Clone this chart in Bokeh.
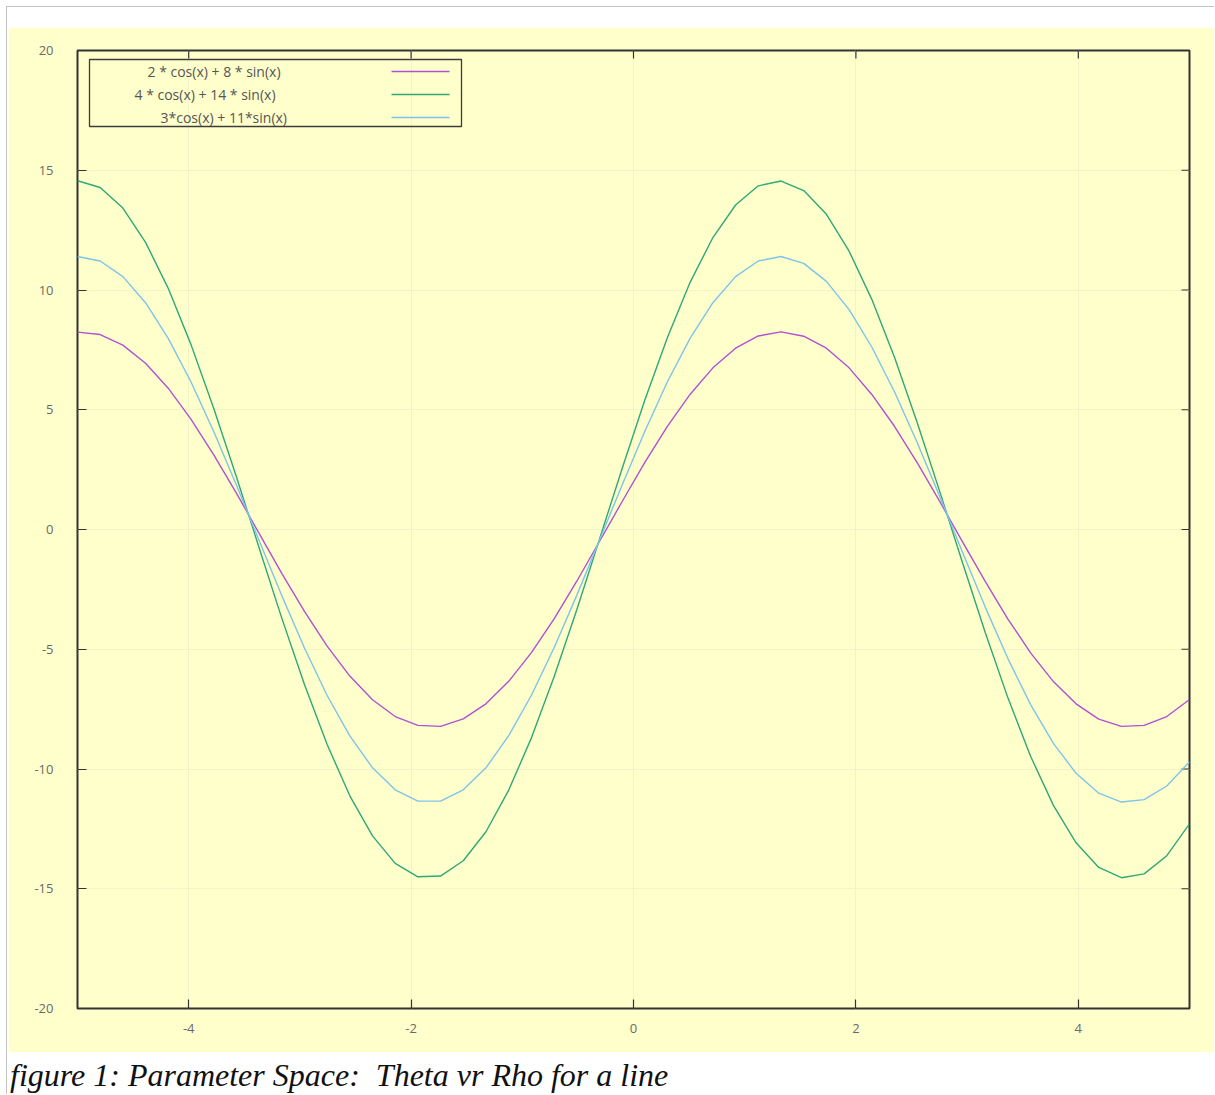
import math
from bokeh.plotting import figure
from bokeh.models import Range1d, FixedTicker, Label, BoxAnnotation, Arrow, Div, Spacer
from bokeh.layouts import column, row
from bokeh.embed import file_html
from bokeh.resources import INLINE

# ---- data (sampled at 50 points across [-5, 5]) ----
x_vals = [-5.000, -4.796, -4.592, -4.388, -4.184, -3.980, -3.776, -3.571, -3.367, -3.163,
          -2.959, -2.755, -2.551, -2.347, -2.143, -1.939, -1.735, -1.531, -1.327, -1.122,
          -0.918, -0.714, -0.510, -0.306, -0.102, 0.102, 0.306, 0.510, 0.714, 0.918,
          1.122, 1.327, 1.531, 1.735, 1.939, 2.143, 2.347, 2.551, 2.755, 2.959,
          3.163, 3.367, 3.571, 3.776, 3.980, 4.184, 4.388, 4.592, 4.796, 5.000]

series_a = [8.24, 8.14, 7.70, 6.94, 5.90, 4.61, 3.13, 1.52, -0.16, -1.83,
            -3.42, -4.87, -6.12, -7.11, -7.81, -8.18, -8.22, -7.91, -7.28, -6.34,
            -5.14, -3.73, -2.16, -0.50, 1.17, 2.80, 4.32, 5.65, 6.75, 7.57,
            8.08, 8.25, 8.07, 7.57, 6.75, 5.64, 4.31, 2.79, 1.16, -0.52,
            -2.17, -3.74, -5.15, -6.35, -7.28, -7.92, -8.22, -8.18, -7.81, -7.10]

series_b = [14.56, 14.28, 13.42, 11.99, 10.07, 7.73, 5.07, 2.20, -0.76, -3.70,
            -6.47, -8.98, -11.12, -12.79, -13.94, -14.50, -14.47, -13.83, -12.62, -10.88,
            -8.70, -6.15, -3.35, -0.41, 2.55, 5.41, 8.03, 10.33, 12.19, 13.55,
            14.35, 14.55, 14.15, 13.16, 11.62, 9.61, 7.19, 4.47, 1.57, -1.39,
            -4.30, -7.03, -9.47, -11.52, -13.08, -14.11, -14.54, -14.38, -13.62, -12.29]

series_c = [11.40, 11.21, 10.56, 9.47, 7.98, 6.17, 4.10, 1.86, -0.46, -2.76,
            -4.95, -6.93, -8.62, -9.95, -10.87, -11.34, -11.34, -10.87, -9.95, -8.61,
            -6.92, -4.94, -2.75, -0.45, 1.86, 4.10, 6.18, 7.99, 9.47, 10.56,
            11.21, 11.40, 11.11, 10.36, 9.18, 7.62, 5.75, 3.63, 1.37, -0.95,
            -3.24, -5.39, -7.31, -8.93, -10.18, -11.01, -11.38, -11.28, -10.71, -9.70]

series_labels = ["2 * cos(x) + 8 * sin(x)", "4 * cos(x) + 14 * sin(x)", "3*cos(x) + 11*sin(x)"]
series_colors = ["#B050D4", "#2EA878", "#7DC3EA"]

x_ticks = [-4, -2, 0, 2, 4]
y_ticks = [-20, -15, -10, -5, 0, 5, 10, 15, 20]
caption = "figure 1: Parameter Space:  Theta vr Rho for a line"

BG = "#FFFFCC"
FRAME = "#333333"
EDGE = "#c4c4c4"

p = figure(width=1206, height=1025, output_backend="svg", toolbar_location=None,
           x_range=Range1d(-5, 5), y_range=Range1d(-20, 20),
           min_border_left=69, min_border_right=25, min_border_top=23, min_border_bottom=44,
           background_fill_color=BG, border_fill_color=BG)

p.outline_line_color = FRAME
p.outline_line_width = 2

for ax in (p.xaxis, p.yaxis):
    ax.axis_line_color = None
    ax.major_tick_in = 9
    ax.major_tick_out = 0
    ax.minor_tick_line_color = None
    ax.major_tick_line_color = FRAME
    ax.major_tick_line_width = 1.2
    ax.major_label_text_font = "Open Sans"
    ax.major_label_text_font_size = "13px"
    ax.major_label_text_color = "#6a6a6a"
p.xaxis.ticker = FixedTicker(ticks=x_ticks)
p.yaxis.ticker = FixedTicker(ticks=y_ticks)
p.xaxis.major_label_overrides = {t: str(t) for t in x_ticks}
p.yaxis.major_label_overrides = {t: str(t) for t in y_ticks}
p.yaxis.major_label_standoff = 24
p.xaxis.major_label_standoff = 15

# mirrored inward ticks on the top and right edges
p.ray(x=x_ticks, y=[y_ticks[-1]] * len(x_ticks), length=8, length_units="screen",
      angle=-math.pi / 2, line_color=FRAME, line_width=1.2)
p.ray(x=[5] * len(y_ticks), y=y_ticks, length=8, length_units="screen",
      angle=math.pi, line_color=FRAME, line_width=1.2)

p.xgrid.ticker = FixedTicker(ticks=x_ticks)
p.ygrid.ticker = FixedTicker(ticks=y_ticks)
p.grid.grid_line_color = "#f3f3c8"
p.grid.grid_line_width = 1

for ys, col in zip([series_a, series_b, series_c], series_colors):
    p.line(x_vals, ys, line_color=col, line_width=1.4)

# legend drawn in screen units (relative to the frame)
p.add_layout(BoxAnnotation(left=12, right=384, bottom=882, top=949,
                           left_units="screen", right_units="screen",
                           bottom_units="screen", top_units="screen",
                           fill_color=None, fill_alpha=0,
                           line_color="#3c3c3c", line_alpha=1.0, line_width=1.3))
label_x = [70, 57, 83]
row_y = [937, 914, 891]
for lab, lx, ry, col in zip(series_labels, label_x, row_y, series_colors):
    p.add_layout(Label(x=lx, y=ry, x_units="screen", y_units="screen", text=lab,
                       text_font="Open Sans", text_font_size="14px", text_color="#555555",
                       text_baseline="middle", text_align="left"))
    p.add_layout(Arrow(end=None, x_start=314, y_start=ry, x_end=372, y_end=ry,
                       start_units="screen", end_units="screen",
                       line_color=col, line_width=1.4))

cap = Div(text=caption, width=1206, height=42,
          styles={"font-family": "Liberation Serif", "font-style": "italic",
                  "font-size": "32px", "line-height": "38px", "color": "#111111",
                  "white-space": "pre", "margin": "0", "padding-left": "2px",
                  "padding-top": "4px", "overflow": "hidden"})

top_line = Div(text="", width=1207, height=1,
               styles={"background-color": EDGE, "overflow": "hidden", "margin": "0"})
left_line = Div(text="", width=1, height=1088,
                styles={"background-color": EDGE, "overflow": "hidden", "margin": "0"})

inner = column(top_line,
               Spacer(width=1207, height=20),
               row(Spacer(width=1, height=1025), p),
               row(Spacer(width=1, height=42), cap))

layout = column(Spacer(width=1214, height=6),
                row(Spacer(width=6, height=1088), left_line, inner))
open("out.html", "w").write(file_html(layout, INLINE))
